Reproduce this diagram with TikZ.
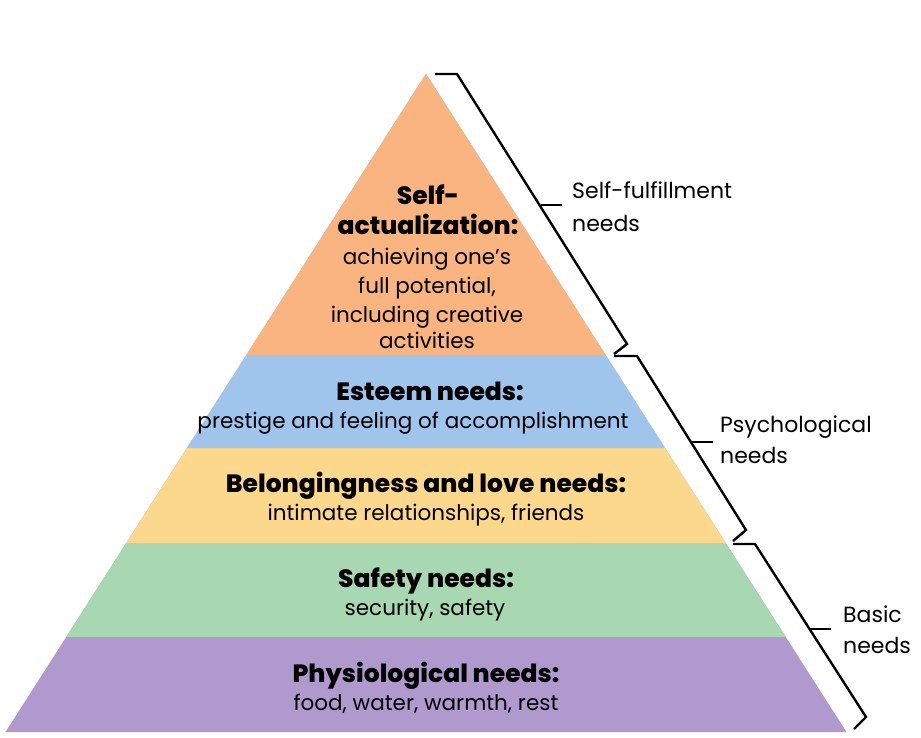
\documentclass[tikz,border=0pt]{standalone}
\usepackage{fontspec}
\setmainfont{Poppins}
\newfontfamily\heavyfont{Poppins ExtraBold}
\definecolor{cOrange}{HTML}{FAB480}
\definecolor{cBlue}{HTML}{A0C5EC}
\definecolor{cYellow}{HTML}{FCD88C}
\definecolor{cGreen}{HTML}{A7D8B2}
\definecolor{cPurple}{HTML}{B099CD}
\tikzset{
  txt/.style={anchor=base, inner sep=0pt, font=\fontsize{21.5}{26}\selectfont},
  hd/.style={anchor=base, inner sep=0pt, font=\fontsize{25}{29}\heavyfont},
  lab/.style={anchor=base west, inner sep=0pt, font=\fontsize{22}{26}\selectfont},
  brace/.style={draw=black, line width=2.4pt, line join=miter, line cap=butt},
}
\begin{document}
\begin{tikzpicture}[x=1pt,y=-1pt]
\useasboundingbox (0,0) rectangle (921,738);
\fill[white] (0,0) rectangle (921,738);
% layers (drawn as nested triangles from the apex)
\fill[cPurple] (426,74) -- (5.5,732) -- (846.5,732) -- cycle;
\fill[cGreen]  (426,74) -- (66.2,637) -- (785.8,637) -- cycle;
\fill[cYellow] (426,74) -- (126.3,543) -- (725.7,543) -- cycle;
\fill[cBlue]   (426,74) -- (187.0,448) -- (665.0,448) -- cycle;
\fill[cOrange] (426,74) -- (246.4,355) -- (605.6,355) -- cycle;
% braces
\draw[brace] (435,74) -- (457,74) -- (627,344) -- (614,354);
\draw[brace] (541,205) -- (562,205);
\draw[brace] (614,356) -- (637,356) -- (746,530) -- (733,541);
\draw[brace] (692,442) -- (713,442);
\draw[brace] (733,544) -- (755,544) -- (866,717) -- (854,729);
\draw[brace] (810,629) -- (831,629);
% pyramid texts
\node[hd]  (t1) at (428,205) {Self-};
\node[hd]  (t2) at (428,235) {actualization:};
\node[txt] (t3) at (427,265) {achieving one’s};
\node[txt] (t4) at (427,293) {full potential,};
\node[txt] (t5) at (427,322) {including creative};
\node[txt] (t6) at (427,348) {activities};
\node[hd]  (e1) at (430,400) {Esteem needs:};
\node[txt] (e2) at (413,428) {prestige and feeling of accomplishment};
\node[hd]  (b1) at (426,492) {Belongingness and love needs:};
\node[txt] (b2) at (426,520) {intimate relationships, friends};
\node[hd]  (s1) at (426,587) {Safety needs:};
\node[txt] (s2) at (425,615) {security, safety};
\node[hd]  (p1) at (426,682) {Physiological needs:};
\node[txt] (p2) at (426,710) {food, water, warmth, rest};
% side labels
\node[lab] (l1) at (572,199) {Self-fulfillment};
\node[lab] (l2) at (572,232) {needs};
\node[lab] (l3) at (720,432) {Psychological};
\node[lab] (l4) at (720,463) {needs};
\node[lab] (l5) at (843,622) {Basic};
\node[lab] (l6) at (843,653) {needs};
\end{tikzpicture}
\end{document}
